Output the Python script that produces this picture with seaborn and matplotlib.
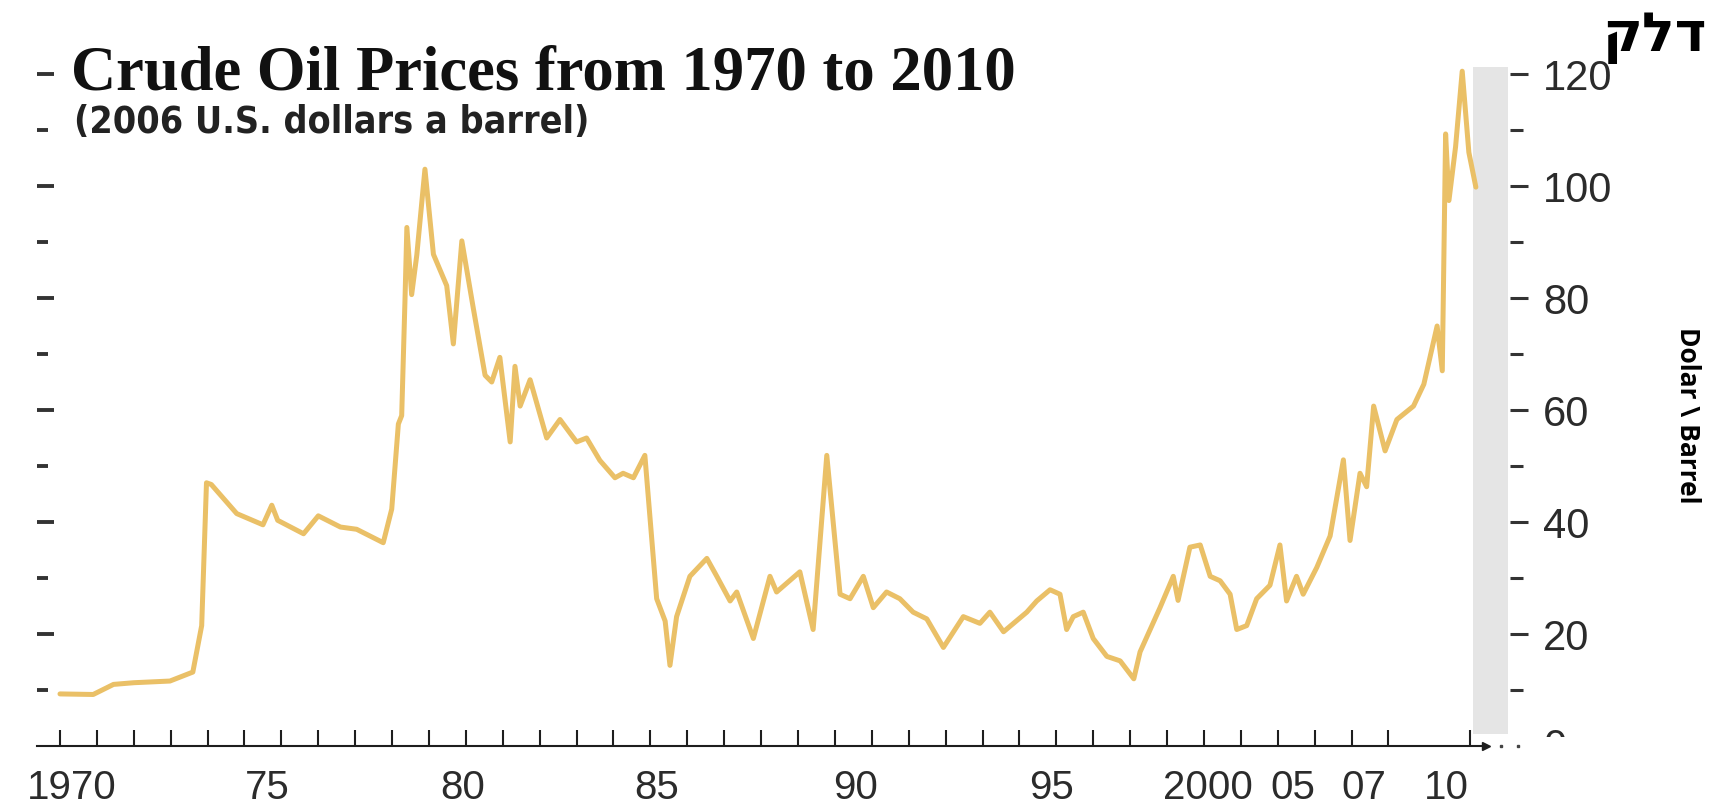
import matplotlib
matplotlib.use("Agg")
import matplotlib.pyplot as plt
import seaborn as sns
import pandas as pd
from matplotlib import font_manager as fm
from matplotlib.transforms import Bbox
from matplotlib.ticker import FixedLocator, NullFormatter

# ---- data -------------------------------------------------------------
years = [
    1970.00, 1970.90, 1971.45, 1972.00, 1972.98, 1973.60, 1973.84, 1973.97,
    1974.10, 1974.79, 1975.50, 1975.74, 1975.90, 1976.60, 1977.00, 1977.60,
    1978.04, 1978.76, 1978.99, 1979.17, 1979.26, 1979.35, 1979.40, 1979.53,
    1979.67, 1979.89, 1980.12, 1980.48, 1980.66, 1980.89, 1981.20, 1981.52,
    1981.70, 1981.92, 1982.20, 1982.33, 1982.47, 1982.74, 1983.19, 1983.55,
    1984.00, 1984.27, 1984.63, 1985.04, 1985.26, 1985.54, 1985.85, 1986.17,
    1986.40, 1986.53, 1986.71, 1987.07, 1987.53, 1987.80, 1988.16, 1988.34,
    1988.79, 1989.24, 1989.42, 1990.05, 1990.41, 1990.78, 1991.14, 1991.41,
    1991.77, 1992.04, 1992.40, 1992.76, 1993.12, 1993.49, 1993.94, 1994.48,
    1994.93, 1995.20, 1995.57, 1996.20, 1996.47, 1996.83, 1997.10, 1997.28,
    1997.46, 1997.73, 1998.00, 1998.37, 1998.73, 1999.10, 1999.27, 1999.81,
    2000.17, 2000.30, 2000.62, 2000.90, 2001.17, 2001.44, 2001.71, 2001.89,
    2002.16, 2002.43, 2002.79, 2003.06, 2003.24, 2003.51, 2003.69, 2004.06,
    2004.42, 2004.78, 2004.96, 2005.23, 2005.41, 2005.60, 2005.91, 2006.23,
    2006.68, 2006.96, 2007.32, 2007.46, 2007.55, 2007.64, 2007.82, 2008.00,
    2008.18, 2008.37,
]
prices = [
    9.3, 9.2, 11.0, 11.3, 11.6, 13.2, 21.5, 47.0,
    46.7, 41.5, 39.5, 43.0, 40.3, 37.9, 41.1, 39.1,
    38.7, 36.3, 42.3, 57.5, 59.0, 79.8, 92.6, 80.6,
    87.7, 103.0, 87.8, 82.2, 71.8, 90.2, 78.2, 66.2,
    65.0, 69.4, 54.3, 67.8, 60.7, 65.4, 55.0, 58.3,
    54.3, 55.0, 51.0, 47.9, 48.7, 47.9, 51.9, 26.3,
    22.3, 14.4, 23.1, 30.3, 33.5, 30.3, 25.9, 27.5,
    19.2, 30.3, 27.5, 31.1, 20.8, 51.9, 27.1, 26.3,
    30.3, 24.7, 27.5, 26.3, 23.9, 22.7, 17.6, 23.1,
    21.9, 23.9, 20.4, 23.9, 25.9, 27.9, 27.1, 20.8,
    23.1, 23.9, 19.2, 16.0, 15.2, 12.0, 16.8, 24.7,
    30.3, 26.0, 35.5, 35.9, 30.3, 29.5, 27.1, 20.8,
    21.5, 26.3, 28.7, 35.9, 25.9, 30.3, 27.1, 31.9,
    37.5, 51.1, 36.7, 48.7, 46.3, 60.7, 52.7, 58.3,
    60.7, 64.6, 75.0, 67.0, 109.3, 97.4, 107.0, 120.5,
    106.0, 99.8,
]

year_ticks = list(range(1970, 2007)) + [2008.2]
year_labels = ["1970", "75", "80", "85", "90", "95", "2000", "05", "07", "10"]
year_label_pos = [1970.33, 1975.61, 1980.92, 1986.18, 1991.57, 1996.88,
                  2001.11, 2003.41, 2005.34, 2007.56]
price_ticks_major = [20, 40, 60, 80, 100, 120]
price_ticks_minor = [10, 30, 50, 70, 90, 110]

title = "Crude Oil Prices from 1970 to 2010"
subtitle = "(2006 U.S. dollars a barrel)"
heading = "קלד"  # glyphs in visual (right-to-left) order
unit_label = "Dolar \\ Barrel"

# ---- fonts --------------------------------------------------------------
def installed(name, stretch=None):
    for f in fm.fontManager.ttflist:
        if f.name == name and (stretch is None or str(f.stretch) == stretch):
            return True
    return False

if installed("Liberation Sans Narrow"):
    sub_font = dict(family=["Liberation Sans Narrow"], fontstretch="normal")
elif installed("DejaVu Sans", "condensed"):
    sub_font = dict(family=["DejaVu Sans"], fontstretch="condensed")
else:
    sub_font = dict(family=["Liberation Sans"], fontstretch="normal")

tick_font = ["Liberation Sans", "DejaVu Sans"]

# ---- style --------------------------------------------------------------
sns.set_theme(style="white")
line_color = "#eac067"
ink = "#2b2b2b"

W, H = 1709, 804
fig = plt.figure(figsize=(W / 100, H / 100), dpi=100)
fig.patch.set_facecolor("white")

left_px, right_px, bottom_px, top_px = 37, 1510, 747, 68
ax = fig.add_axes([left_px / W, 1 - bottom_px / H,
                   (right_px - left_px) / W, (bottom_px - top_px) / H])
ax.set_facecolor("white")
ax.set_xlim(1969.377, 2009.295)
ax.set_ylim(0, 121.25)

# grey band along the right edge of the plot
ax.axvspan(2008.29, 2009.25, ymin=0.018, ymax=1.0, color="#e5e5e5", lw=0, zorder=0)

df = pd.DataFrame({"year": years, "price": prices})
sns.lineplot(data=df, x="year", y="price", ax=ax, color=line_color,
             linewidth=3.6, estimator=None, sort=False, zorder=3)
ax.set_xlabel("")
ax.set_ylabel("")

for side in ("top", "right", "left"):
    ax.spines[side].set_visible(False)
ax.spines["bottom"].set_color("#1e1e1e")
ax.spines["bottom"].set_linewidth(1.5)
ax.spines["bottom"].set_bounds(1969.377, 2008.65)
ax.plot([2008.65], [0], marker=">", ms=6, color="#1e1e1e", clip_on=False, zorder=4)
ax.plot([2009.05, 2009.5], [0, 0], ls="none", marker="s", ms=1.5,
        color="#444444", clip_on=False)

# x axis: yearly tick marks (minor), labels on their own positions (major)
ax.xaxis.set_minor_locator(FixedLocator(year_ticks))
ax.xaxis.set_minor_formatter(NullFormatter())
ax.set_xticks(year_label_pos)
ax.set_xticklabels(year_labels)
ax.tick_params(axis="x", which="minor", direction="in", length=11.5, width=1.5,
               color="#1e1e1e", bottom=True)
ax.tick_params(axis="x", which="major", length=0, pad=16, labelsize=29,
               labelcolor=ink, bottom=True)
for t in ax.get_xticklabels():
    t.set_family(tick_font)

# left side: short dashes, no labels
ax.yaxis.set_major_locator(FixedLocator(price_ticks_major))
ax.yaxis.set_minor_locator(FixedLocator(price_ticks_minor))
ax.tick_params(axis="y", which="major", direction="in", length=12, width=2.8,
               color="#333333", left=True, right=False, labelleft=False)
ax.tick_params(axis="y", which="minor", direction="in", length=8, width=2.8,
               color="#333333", left=True, right=False)

# right side: labelled price scale
sec = ax.secondary_yaxis("right")
sec.spines["right"].set_visible(False)
sec.set_yticks(price_ticks_major)
sec.set_yticklabels([str(v) for v in price_ticks_major])
sec.yaxis.set_minor_locator(FixedLocator(price_ticks_minor))
sec.tick_params(axis="y", which="major", direction="out", length=13, width=2.2,
                color="#333333", pad=11, labelsize=30, labelcolor=ink)
sec.tick_params(axis="y", which="minor", direction="out", length=9, width=2.2,
                color="#333333")
for t in sec.get_yticklabels():
    t.set_family(tick_font)

# "0" at the foot of the right scale, only its upper part shows
zero = fig.text(1543 / W, 1 - 748 / H, "0", ha="left", va="center", fontsize=30,
                color=ink, family=tick_font)
zero.set_clip_box(Bbox.from_extents(1530, H - 738, 1620, H - 715))
zero.set_clip_on(True)

# titles and side labels
renderer = fig.canvas.get_renderer()

def fit_width(txt, target_px):
    size = txt.get_fontsize()
    w = txt.get_window_extent(renderer).width
    txt.set_fontsize(size * target_px / w)

t_title = fig.text(71 / W, 1 - 90 / H, title, ha="left", va="baseline", fontsize=44,
                   fontweight="bold", family=["Liberation Serif", "DejaVu Serif"],
                   color="#111111")
fit_width(t_title, 945)

t_sub = fig.text(74 / W, 1 - 133 / H, subtitle, ha="left", va="baseline", fontsize=26,
                 fontweight="bold", color="#222222", **sub_font)
fit_width(t_sub, 515)

fig.text(1707 / W, 1 - 10 / H, heading, ha="right", va="top", fontsize=39,
         fontweight="bold", family=["Open Sans", "DejaVu Sans"], color="#000000")
fig.text(1688 / W, 1 - 415 / H, unit_label, ha="center", va="center", rotation=270,
         fontsize=19, fontweight="bold", family=["Open Sans", "DejaVu Sans"],
         color="#000000")

fig.savefig("out.png", dpi=100, facecolor="white")
